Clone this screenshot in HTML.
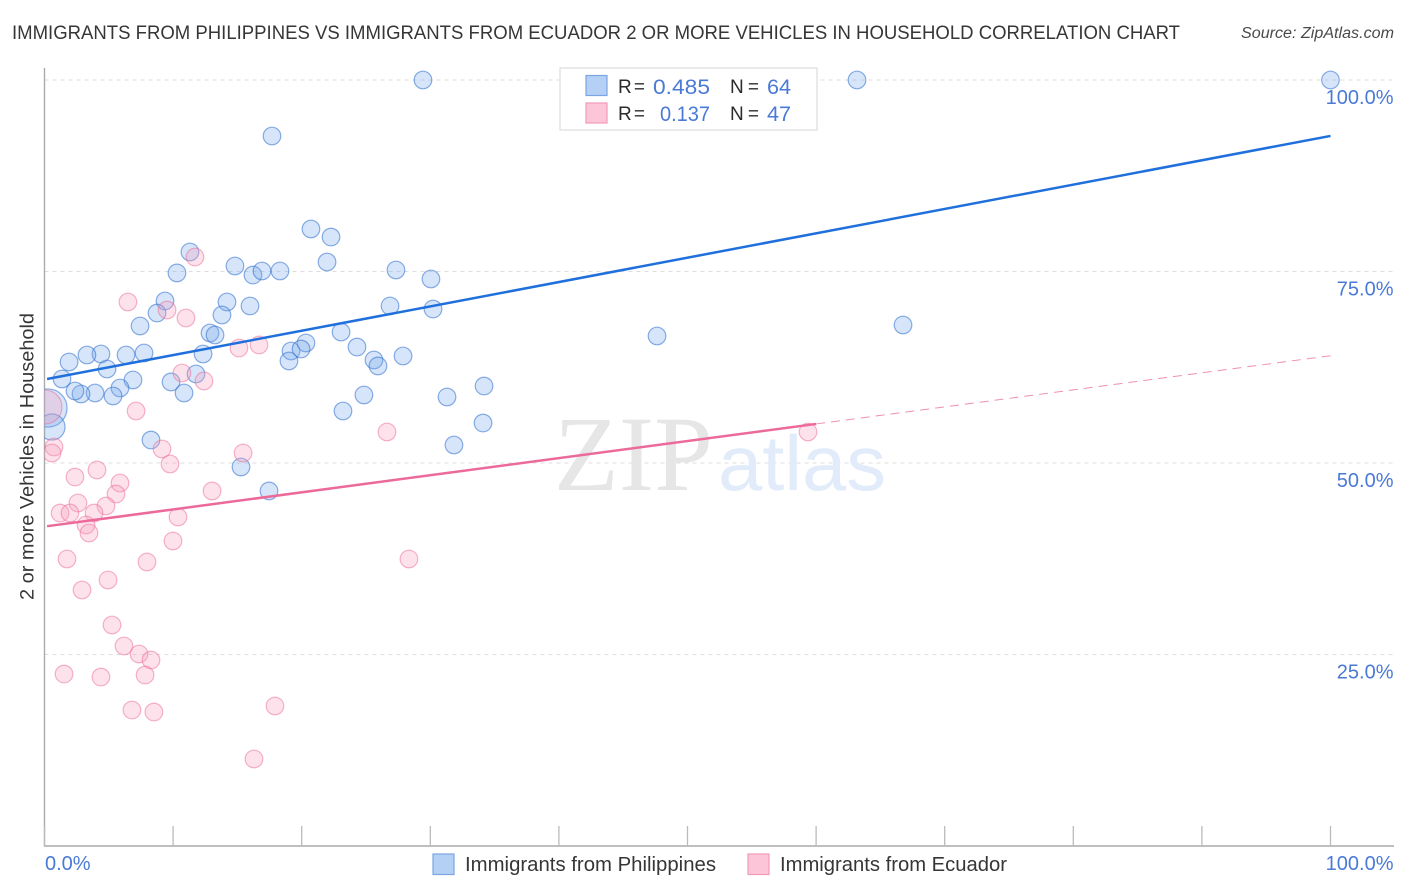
<!DOCTYPE html>
<html lang="en">
<head>
<meta charset="utf-8">
<title>Immigrants from Philippines vs Immigrants from Ecuador Correlation Chart</title>
<style>
html,body{margin:0;padding:0;background:#fff;width:1406px;height:892px;overflow:hidden}
svg{display:block;font-family:"Liberation Sans",sans-serif}
</style>
</head>
<body>
<svg id="chart" width="1406" height="892" viewBox="0 0 1406 892" xmlns="http://www.w3.org/2000/svg">
  <defs><clipPath id="plot-clip"><rect x="44.5" y="60" width="1350" height="786"/></clipPath></defs>
  <text x="12" y="39" font-size="19.5" fill="#363636" textLength="1168" lengthAdjust="spacingAndGlyphs">IMMIGRANTS FROM PHILIPPINES VS IMMIGRANTS FROM ECUADOR 2 OR MORE VEHICLES IN HOUSEHOLD CORRELATION CHART</text>
  <text x="1241" y="38" font-size="15.5" font-style="italic" fill="#4a4a4a" textLength="153" lengthAdjust="spacingAndGlyphs">Source: ZipAtlas.com</text>

  <g id="grid"></g>

  <g>
    <text x="554" y="490" font-family="'Liberation Serif',serif" font-size="107" fill="#e6e6e6" textLength="159" lengthAdjust="spacingAndGlyphs">ZIP</text>
    <text x="718" y="490" font-size="78" fill="#e1ebfa" textLength="168" lengthAdjust="spacingAndGlyphs">atlas</text>
  </g>

  <g id="axes"></g>
  <g id="points-philippines" clip-path="url(#plot-clip)"></g>
  <g id="points-ecuador" clip-path="url(#plot-clip)"></g>
  <g id="trends"></g>
  <g id="tick-labels"></g>

  <text transform="translate(33.5,456.5) rotate(-90)" text-anchor="middle" font-size="19" fill="#363636" textLength="287" lengthAdjust="spacingAndGlyphs">2 or more Vehicles in Household</text>

  <g>
    <rect x="560" y="68" width="257" height="62" fill="#fff" stroke="#dcdcdc" stroke-width="1.2"/>
    <rect x="586" y="75.5" width="21" height="20" fill="#b5d0f5" stroke="#7ba6e2" stroke-width="1.2"/>
    <rect x="586" y="103" width="21" height="20" fill="#fdc6d8" stroke="#f09ab8" stroke-width="1.2"/>
    <text x="618" y="93" font-size="19" fill="#2b2b2b" textLength="27">R =</text>
    <text x="653" y="94" font-size="21.5" fill="#4a7ad6" textLength="57" lengthAdjust="spacingAndGlyphs">0.485</text>
    <text x="730" y="93" font-size="19" fill="#2b2b2b" textLength="29">N =</text>
    <text x="767" y="94" font-size="21.5" fill="#4a7ad6" textLength="24" lengthAdjust="spacingAndGlyphs">64</text>
    <text x="618" y="120" font-size="19" fill="#2b2b2b" textLength="27">R =</text>
    <text x="660" y="121" font-size="21.5" fill="#4a7ad6" textLength="50" lengthAdjust="spacingAndGlyphs">0.137</text>
    <text x="730" y="120" font-size="19" fill="#2b2b2b" textLength="29">N =</text>
    <text x="767" y="121" font-size="21.5" fill="#4a7ad6" textLength="24" lengthAdjust="spacingAndGlyphs">47</text>
  </g>

  <g>
    <rect x="433" y="854" width="21" height="20.5" fill="#b5d0f5" stroke="#7ba6e2" stroke-width="1.2"/>
    <text x="465" y="871" font-size="20" fill="#363636" textLength="251" lengthAdjust="spacingAndGlyphs">Immigrants from Philippines</text>
    <rect x="748" y="854" width="21" height="20.5" fill="#fdc6d8" stroke="#f09ab8" stroke-width="1.2"/>
    <text x="780" y="871" font-size="20" fill="#363636" textLength="227" lengthAdjust="spacingAndGlyphs">Immigrants from Ecuador</text>
  </g>
</svg>

<script>
const yTickValues = [25, 50, 75, 100];
const yTickLabels = ['25.0%', '50.0%', '75.0%', '100.0%'];
const xTickValues = [0, 10, 20, 30, 40, 50, 60, 70, 80, 90, 100];
const xEndValues = [0, 100];
const xEndLabels = ['0.0%', '100.0%'];

const philippinesX = [0.27,0.58,29.43,63.18,100,17.69,20.72,22.28,21.97,11.31,10.30,14.81,16.21,16.91,18.31,27.33,30.05,9.37,14.19,15.98,13.80,8.75,7.43,26.87,30.21,12.87,13.26,23.06,24.30,47.63,66.76,12.33,7.74,6.34,4.39,3.30,1.91,4.86,1.36,6.88,9.84,11.78,19.17,20.33,19.95,19.01,25.62,25.93,27.88,34.18,31.30,24.84,23.21,34.10,31.84,10.85,5.87,5.33,3.93,2.84,2.37,8.28,15.28,17.46];
const philippinesY = [57.18,54.70,100,100,100,92.69,80.55,79.50,76.24,77.55,74.81,75.72,74.54,75.07,75.07,75.20,74.02,71.15,71.02,70.50,69.32,69.58,67.89,70.50,70.10,66.97,66.71,67.10,65.14,66.58,68.02,64.23,64.36,64.10,64.23,64.10,63.19,62.27,60.97,60.84,60.58,61.62,64.62,65.67,64.88,63.32,63.45,62.67,63.97,60.05,58.62,58.88,56.79,55.22,52.35,59.14,59.79,58.75,59.14,59.01,59.40,53.00,49.48,46.35];
const philippinesWeight = [4.7,2.2];

const ecuadorX = [0.04,11.70,6.49,9.53,11.00,15.12,16.68,10.69,12.40,7.12,9.14,9.76,15.44,13.03,4.08,2.37,5.87,5.56,2.60,4.78,1.21,1.98,3.85,10.38,0.74,0.58,3.23,3.46,9.99,7.97,28.34,1.75,2.92,4.94,5.25,6.18,7.35,8.28,7.82,1.52,4.39,6.80,8.51,17.92,16.29,26.63,59.37];
const ecuadorY = [57.31,76.89,71.02,69.97,68.93,65.01,65.41,61.75,60.71,56.79,51.83,49.87,51.31,46.35,49.09,48.17,47.39,45.95,44.78,44.39,43.47,43.47,43.47,42.95,52.09,51.31,41.91,40.86,39.82,37.08,37.47,37.47,33.42,34.73,28.85,26.11,25.07,24.28,22.32,22.45,22.06,17.75,17.49,18.28,11.36,54.05,54.05];
const ecuadorWeight = [3.7];

const philippinesTrendX = [0.2, 100];
const philippinesTrendY = [60.97, 92.7];
const ecuadorTrendX = [0.2, 60];
const ecuadorTrendY = [41.75, 55.1];
const ecuadorProjectionX = [60, 100];
const ecuadorProjectionY = [55.1, 64.0];

const SVGNS = 'http://www.w3.org/2000/svg';
function xScale(v) { return 44.5 + v * 12.86; }
function yScale(v) { return 846 - v * 7.66; }
function radiusFor(weight) { return 8.8 * Math.sqrt(weight === undefined ? 1 : weight); }
function make(tag, attrs, parent) {
  const el = document.createElementNS(SVGNS, tag);
  for (const k in attrs) el.setAttribute(k, attrs[k]);
  parent.appendChild(el);
  return el;
}

const gridG = document.getElementById('grid');
const axesG = document.getElementById('axes');
const labelsG = document.getElementById('tick-labels');

yTickValues.forEach(function (v, i) {
  const line = make('line', {x1: 44.5, x2: 1394, y1: yScale(v), y2: yScale(v), stroke: '#dddddd', 'stroke-width': 1, 'stroke-dasharray': '4 4'}, gridG);
  
  
  const label = make('text', {x: 1393.5, y: yScale(v) + 24, 'text-anchor': 'end', 'font-size': 20, fill: '#4a7ad6'}, labelsG);
  label.textContent = yTickLabels[i];
  
  
});

const yAxis = make('line', {x1: 44.5, x2: 44.5, y1: 68, y2: 846, stroke: '#aaaaaa', 'stroke-width': 1.4}, axesG);


const xAxis = make('line', {x1: 44, x2: 1394, y1: 846, y2: 846, stroke: '#aaaaaa', 'stroke-width': 1.4}, axesG);



xTickValues.forEach(function (v) {
  const tick = make('line', {x1: xScale(v), x2: xScale(v), y1: 826, y2: 846, stroke: '#bbbbbb', 'stroke-width': 1.3}, axesG);
  
  
});

xEndValues.forEach(function (v, i) {
  const anchor = i === 0 ? 'start' : 'end';
  const px = i === 0 ? xScale(v) + 0.5 : xScale(v) + 63;
  const label = make('text', {x: px, y: 870, 'text-anchor': anchor, 'font-size': 20, fill: '#4a7ad6'}, labelsG);
  label.textContent = xEndLabels[i];
  
  
});

const philippinesG = document.getElementById('points-philippines');
philippinesX.forEach(function (v, i) {
  const c = make('circle', {cx: xScale(v), cy: yScale(philippinesY[i]), r: radiusFor(philippinesWeight[i]), fill: 'rgba(120,170,235,0.3)', stroke: 'rgba(45,110,205,0.55)', 'stroke-width': 1.2}, philippinesG);
  
  
});

const ecuadorG = document.getElementById('points-ecuador');
ecuadorX.forEach(function (v, i) {
  const c = make('circle', {cx: xScale(v), cy: yScale(ecuadorY[i]), r: radiusFor(ecuadorWeight[i]), fill: 'rgba(250,160,190,0.3)', stroke: 'rgba(235,105,150,0.5)', 'stroke-width': 1.2}, ecuadorG);
  
  
});

const trendsG = document.getElementById('trends');
const blueTrend = make('line', {x1: xScale(philippinesTrendX[0]), y1: yScale(philippinesTrendY[0]), x2: xScale(philippinesTrendX[1]), y2: yScale(philippinesTrendY[1]), stroke: '#1f6fdc', 'stroke-width': 2.5}, trendsG);


const pinkTrend = make('line', {x1: xScale(ecuadorTrendX[0]), y1: yScale(ecuadorTrendY[0]), x2: xScale(ecuadorTrendX[1]), y2: yScale(ecuadorTrendY[1]), stroke: '#ec6a9a', 'stroke-width': 2.5}, trendsG);


const pinkProjection = make('line', {x1: xScale(ecuadorProjectionX[0]), y1: yScale(ecuadorProjectionY[0]), x2: xScale(ecuadorProjectionX[1]), y2: yScale(ecuadorProjectionY[1]), stroke: '#ec6a9a', 'stroke-width': 1, 'stroke-dasharray': '9 6', opacity: 0.75}, trendsG);


</script>
</body>
</html>
